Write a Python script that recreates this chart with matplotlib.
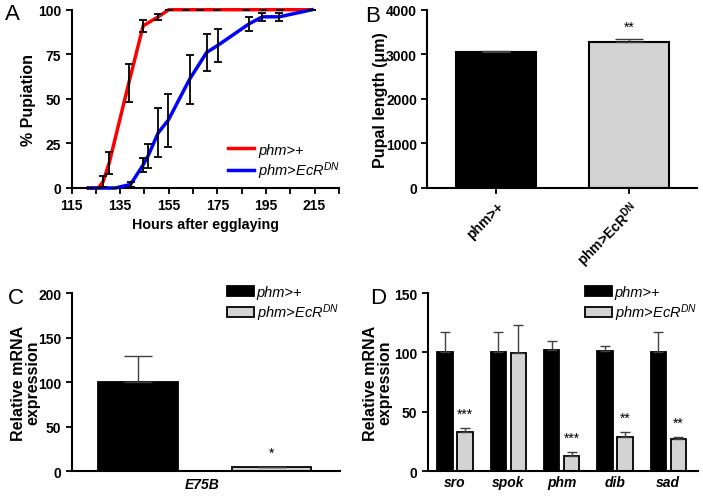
import numpy as np
import matplotlib
matplotlib.use("Agg")
import matplotlib.pyplot as plt
from matplotlib.lines import Line2D
from matplotlib.patches import Patch

plt.rcParams["font.family"] = ["Liberation Sans", "DejaVu Sans"]
plt.rcParams["mathtext.fontset"] = "custom"
plt.rcParams["mathtext.rm"] = "Liberation Sans"
plt.rcParams["mathtext.it"] = "Liberation Sans:italic"
plt.rcParams["mathtext.bf"] = "Liberation Sans:bold"

W, H = 703, 502
RED, BLUE, GRAY, ERR = "#ff0000", "#0000ff", "#d3d3d3", "#404040"
LAB_CTRL = "phm>+"
LAB_DN = r"phm>EcR$^{\mathit{DN}}$"

# A: pupariation time course
red_t = [122, 126, 128, 130.5, 138.6, 144.5, 150.7, 155, 162, 168, 175, 187, 194, 201, 213]
red_y = [0, 0, 3.5, 14, 59, 91, 96, 100, 100, 100, 100, 100, 100, 100, 100]
red_e = [0, 0, 3, 6, 10.5, 3.3, 1.6, 0, 0, 0, 0, 0, 0, 0, 0]
blue_t = [122, 133, 139.3, 144.5, 146.5, 150.7, 154.8, 163.6, 170.6, 175.2, 188, 193.5, 200.5, 214]
blue_y = [0, 0, 2, 13, 18, 31, 38, 61, 76, 80, 92, 96, 96, 100]
blue_e = [0, 0, 1.5, 4, 6.7, 13.7, 14.8, 13.7, 10.6, 9.1, 3.9, 2.1, 2.1, 0]

# B: pupal length
b_groups = [LAB_CTRL, r"phm>EcR$^{\mathbf{DN}}$"]
b_vals = [3040, 3282]
b_err = [30, 60]

# C: E75B
c_vals = [100, 4.5]
c_err = [29, 0.8]

# D: ecdysone biosynthesis genes
d_genes = ["sro", "spok", "phm", "dib", "sad"]
d_ctrl = [100, 100, 102.3, 101.5, 100]
d_ctrl_err = [17, 17, 7, 4.2, 17]
d_dn = [33, 99.2, 13.2, 29.2, 26.9]
d_dn_err = [3.5, 24, 2.8, 4.2, 2.3]
d_stars = ["***", "", "***", "**", "**"]


def add_ax(left, bottom_px, width, height=178.3):
    return fig.add_axes([left / W, (H - bottom_px) / H, width / W, height / H])


def style(ax):
    for s in ["top", "right"]:
        ax.spines[s].set_visible(False)
    for s in ["left", "bottom"]:
        ax.spines[s].set_linewidth(1.5)
    ax.tick_params(direction="out", length=4, width=1.3, labelsize=10)
    for lab in ax.get_yticklabels():
        lab.set_fontweight("bold")


def bar_legend(ax, x0):
    ax.legend([Patch(facecolor="black", edgecolor="black", lw=1.3),
               Patch(facecolor=GRAY, edgecolor="black", lw=1.3)],
              [LAB_CTRL, LAB_DN], loc="upper left", bbox_to_anchor=(x0, 1.045),
              frameon=False, borderpad=0, borderaxespad=0, handlelength=1.85,
              handleheight=0.7, handletextpad=0.2, labelspacing=0.2,
              prop={"size": 10.5, "style": "italic"})


fig = plt.figure(figsize=(W / 100, H / 100), dpi=100)

# ---- A
ax = add_ax(71.5, 189, 267.3)
ax.plot(red_t, red_y, color=RED, lw=2.5, clip_on=False, zorder=3)
ax.plot(blue_t, blue_y, color=BLUE, lw=2.5, clip_on=False, zorder=3)
ax.errorbar(red_t, red_y, yerr=red_e, fmt="none", ecolor="black", elinewidth=1.3,
            capsize=2.6, capthick=1.3, clip_on=False, zorder=4)
ax.errorbar(blue_t, blue_y, yerr=blue_e, fmt="none", ecolor="black", elinewidth=1.3,
            capsize=2.6, capthick=1.3, clip_on=False, zorder=4)
ax.set_xlim(115, 225)
ax.set_ylim(0, 100)
ax.set_xticks(np.arange(115, 216, 20))
ax.set_xticks(np.arange(125, 226, 20), minor=True)
ax.set_yticks([0, 25, 50, 75, 100])
style(ax)
ax.tick_params(which="minor", direction="out", length=4, width=1.3)
for lab in ax.get_xticklabels():
    lab.set_fontweight("bold")
ax.set_xlabel("Hours after egglaying", fontsize=10.3, fontweight="bold", labelpad=3)
ax.set_ylabel("% Pupiation", fontsize=11.5, fontweight="bold")
ax.yaxis.set_label_coords(-0.133, 0.5)
ax.legend([Line2D([], [], color=RED, lw=2.5), Line2D([], [], color=BLUE, lw=2.5)],
          [LAB_CTRL, LAB_DN], loc="upper left", bbox_to_anchor=(0.585, 0.255),
          frameon=False, borderpad=0, borderaxespad=0, handlelength=1.8,
          handletextpad=0.27, labelspacing=0.2, prop={"size": 10.5, "style": "italic"})

# ---- B
ax = add_ax(427.3, 189, 269.4)
ax.bar([0, 1], b_vals, width=0.6, color=["black", GRAY], edgecolor="black", lw=1.5)
ax.errorbar([0, 1], b_vals, yerr=[[0, 0], b_err], fmt="none", ecolor=ERR, elinewidth=1,
            capsize=10, capthick=1)
ax.text(1, 3620, "**", ha="center", va="center", fontsize=10)
ax.set_xlim(-0.52, 1.51)
ax.set_ylim(0, 4000)
ax.set_yticks(range(0, 4001, 1000))
ax.set_xticks([0, 1])
ax.set_xticklabels(b_groups, rotation=45, ha="right", rotation_mode="anchor",
                   fontweight="bold")
style(ax)
ax.set_ylabel("Pupal length (\u03bcm)", fontsize=11.5, fontweight="bold")
ax.yaxis.set_label_coords(-0.146, 0.5)

# ---- C
ax = add_ax(71.7, 472.3, 268.3)
ax.bar([0, 1], c_vals, width=0.594, color=["black", GRAY], edgecolor="black", lw=1.3)
ax.errorbar([0, 1], c_vals, yerr=[[0, 0], c_err], fmt="none", ecolor=ERR, elinewidth=1,
            capsize=10, capthick=1)
ax.text(1, 21, "*", ha="center", va="center", fontsize=10)
ax.set_xlim(-0.496, 1.511)
ax.set_ylim(0, 200)
ax.set_yticks(range(0, 201, 50))
ax.set_xticks([0.48])
ax.set_xticklabels(["E75B"], fontweight="bold", style="italic")
style(ax)
ax.tick_params(axis="x", length=0, pad=4)
ax.set_ylabel("Relative mRNA\nexpression", fontsize=11.5, fontweight="bold", linespacing=0.9)
ax.yaxis.set_label_coords(-0.118, 0.5)
bar_legend(ax, 0.578)

# ---- D
ax = add_ax(427.7, 472.3, 270.6)
x = np.arange(len(d_genes))
off, bw = 0.1875, 0.2875
ax.bar(x - off, d_ctrl, width=bw, color="black", edgecolor="black", lw=1.3)
ax.bar(x + off, d_dn, width=bw, color=GRAY, edgecolor="black", lw=1.3)
ax.errorbar(x - off, d_ctrl, yerr=[np.zeros(5), d_ctrl_err], fmt="none", ecolor=ERR,
            elinewidth=1, capsize=3.5, capthick=1)
ax.errorbar(x + off, d_dn, yerr=[np.zeros(5), d_dn_err], fmt="none", ecolor=ERR,
            elinewidth=1, capsize=3.5, capthick=1)
for xi, v, e, s in zip(x, d_dn, d_dn_err, d_stars):
    if s:
        ax.text(xi + off, v + e + 12, s, ha="center", va="center", fontsize=10)
ax.set_xlim(-0.512, 4.565)
ax.set_ylim(0, 150)
ax.set_yticks([0, 50, 100, 150])
ax.set_xticks(x)
ax.set_xticklabels(d_genes, fontweight="bold", style="italic")
style(ax)
ax.tick_params(axis="x", length=0, pad=3)
ax.set_ylabel("Relative mRNA\nexpression", fontsize=11.5, fontweight="bold", linespacing=0.9)
ax.yaxis.set_label_coords(-0.132, 0.5)
bar_legend(ax, 0.581)

# panel letters
for letter, px, py in [("A", 5, 15), ("B", 365, 16), ("C", 8, 298), ("D", 370, 299)]:
    fig.text(px / W, 1 - py / H, letter, fontsize=16, ha="left", va="center")

fig.savefig("out.png", dpi=100)
